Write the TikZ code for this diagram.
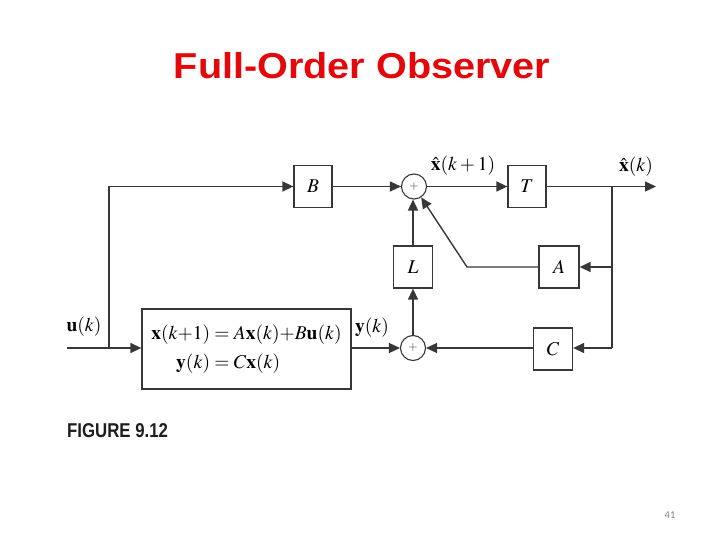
\documentclass[tikz,border=0pt]{standalone}
\usepackage{amsmath}
\usepackage{mathptmx}
\usepackage[no-math]{fontspec}
\setmainfont{Liberation Serif}
\newfontfamily\arialfont{Liberation Sans}
\newfontfamily\pagefont{Carlito}
\usetikzlibrary{arrows.meta,calc}
\definecolor{titlered}{RGB}{228,8,10}
\definecolor{linegray}{RGB}{55,55,55}
\definecolor{figtext}{RGB}{30,30,30}
\tikzset{
  blk/.style={draw=linegray, line width=1.3pt, fill=white, inner sep=0pt, minimum width=38pt, minimum height=42pt, font=\fontsize{19.5}{23}\selectfont},
  sumnode/.style={draw=linegray, line width=1.1pt, circle, minimum size=25pt, inner sep=0pt, font=\fontsize{12}{13}\selectfont\color{linegray}},
  conn/.style={draw=linegray, line width=1.4pt},
  arr/.style={conn, -{Triangle[length=11pt,width=10pt]}},
  lbl/.style={inner sep=0pt, font=\fontsize{19.5}{23}\selectfont},
}
\begin{document}
\begin{tikzpicture}[x=1pt,y=-1pt]
\useasboundingbox (0,0) rectangle (720,540);
\fill[white] (0,0) rectangle (720,540);
% title
\node[inner sep=0pt, anchor=base, text=titlered, font=\arialfont\fontsize{36}{40}\selectfont\bfseries] (title) at (362,79) {\scalebox{1.1}[1]{Full-Order Observer}};
% blocks
\node[blk] (B) at (313,186.5) {$B$};
\node[blk] (T) at (527,186.5) {$T$};
\node[blk, minimum width=39pt] (L) at (413,267) {$L$};
\node[blk, minimum width=40pt] (A) at (559,267) {$A$};
\node[blk, minimum width=39pt] (C) at (553,349) {$C$};
\node[blk, minimum width=209pt, minimum height=80pt] (plant) at (246.5,349) {$\begin{aligned}\mathbf{x}(k{+}1) &= A\mathbf{x}(k){+}B\mathbf{u}(k)\\[3pt] \mathbf{y}(k) &= C\mathbf{x}(k)\end{aligned}$};
\node[sumnode] (s1) at (414,186.5) {$+$};
\node[sumnode] (s2) at (413,348) {$+$};
% coordinates
\coordinate (uin) at (67,348);
\coordinate (ujoin) at (109,348);
\coordinate (utop) at (109,186.5);
\coordinate (outjoin) at (612,186.5);
\coordinate (outend) at (656,186.5);
\coordinate (ajoin) at (612,267);
\coordinate (cjoin) at (612,348);
\coordinate (abend) at (467,267);
% connectors
\draw[arr] (uin) -- (uin -| plant.west);
\draw[conn] (ujoin) -- (utop);
\draw[arr] (utop) -- (B.west);
\draw[arr] (B.east) -- (s1.west);
\draw[arr] (s1.east) -- (T.west);
\draw[arr] (T.east) -- (outend);
\draw[conn] (outjoin) -- (cjoin);
\draw[arr] (ajoin) -- (A.east);
\draw[arr] (cjoin) -- (C.east |- cjoin);
\draw[arr] (A.west) -- (abend) -- (s1);
\draw[arr] (L.north) -- (L.north |- s1.south);
\draw[arr] (C.west |- s2) -- (s2.east);
\draw[arr] (plant.east |- s2) -- (s2.west);
\draw[arr] (s2.north) -- (L.south);
% labels
\node[lbl] (lxk1) at (463,166) {$\hat{\mathbf{x}}(k+1)$};
\node[lbl] (lxk) at (636,167) {$\hat{\mathbf{x}}(k)$};
\node[lbl] (luk) at (84,327) {$\mathbf{u}(k)$};
\node[lbl] (lyk) at (372,328) {$\mathbf{y}(k)$};
% figure caption
\node[inner sep=0pt, anchor=base west, text=figtext, font=\arialfont\fontsize{20}{22}\selectfont\bfseries] (fig) at (67,437) {\scalebox{0.84}[1]{FIGURE 9.12}};
% page number
\node[inner sep=0pt, text=gray, font=\pagefont\fontsize{10.5}{12}\selectfont] (pnum) at (670,515) {41};
\end{tikzpicture}
\end{document}
